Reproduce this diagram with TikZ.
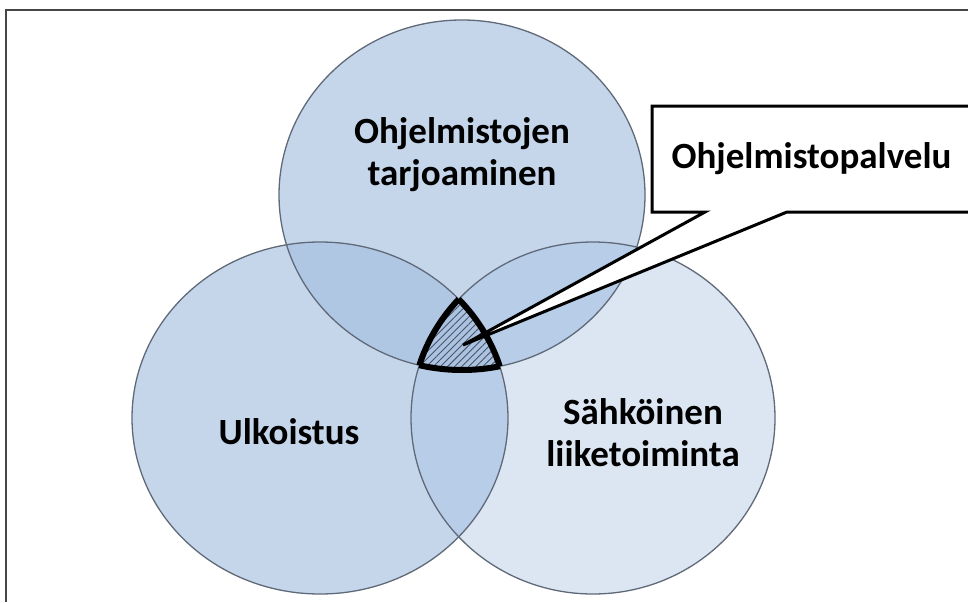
\documentclass[tikz,border=0pt]{standalone}
\usepackage{fontspec}
\setmainfont{Carlito}
\usetikzlibrary{patterns.meta}
\definecolor{venn}{RGB}{165,191,225}
\definecolor{vennedge}{RGB}{95,105,120}
\definecolor{framegray}{RGB}{70,70,70}
\tikzset{
  setfill/.style={fill=venn, fill opacity=#1},
  setedge/.style={draw=vennedge, line width=1.3pt},
  setlabel/.style={font=\fontsize{37}{42}\bfseries\selectfont, align=center, text=black},
  calloutline/.style={draw=black, line width=3pt, line join=miter},
}
\newcommand{\topset}{(462,195) ellipse [x radius=183, y radius=175]}
\newcommand{\leftset}{(320,418) ellipse [x radius=188, y radius=176]}
\newcommand{\rightset}{(593,418) ellipse [x radius=182, y radius=176]}
\begin{document}
\begin{tikzpicture}[x=1pt,y=-1pt]
\useasboundingbox (0,0) rectangle (968,602);
\fill[white] (0,0) rectangle (968,602);
% outer frame, open to the right and bottom
\draw[framegray, line width=2pt] (6,602) -- (6,10) -- (968,10);

% the three sets
\fill[setfill=0.64] \topset;
\fill[setfill=0.64] \leftset;
\fill[setfill=0.38] \rightset;
\draw[setedge] \topset;
\draw[setedge] \leftset;
\draw[setedge] \rightset;

% common part of all three sets, hatched
\begin{scope}
  \clip \topset; \clip \leftset;
  \fill[pattern={Lines[angle=45, distance=5pt, line width=0.9pt]}, pattern color=vennedge!80!black] \rightset;
\end{scope}
\begin{scope}
  \clip \leftset; \clip \rightset;
  \draw[black, line width=6pt] \topset;
\end{scope}
\begin{scope}
  \clip \topset; \clip \rightset;
  \draw[black, line width=6pt] \leftset;
\end{scope}
\begin{scope}
  \clip \topset; \clip \leftset;
  \draw[black, line width=6pt] \rightset;
\end{scope}

% labels
\node[setlabel] (tarjoaminen) at (462,155) {Ohjelmistojen\\tarjoaminen};
\node[setlabel] (ulkoistus) at (289,432) {Ulkoistus};
\node[setlabel] (sahko) at (643,433) {Sähköinen\\liiketoiminta};

% callout
\coordinate (tip) at (463,345);
\coordinate (baseL) at (705,212);
\coordinate (baseR) at (787,212);
\draw[calloutline, fill=white] (985,212) -- (baseR) -- (tip) -- (baseL) -- (652,212) -- (652,106) -- (985,106);
\node[setlabel, anchor=west] (palvelu) at (668,159) {Ohjelmistopalvelu};
\end{tikzpicture}
\end{document}
